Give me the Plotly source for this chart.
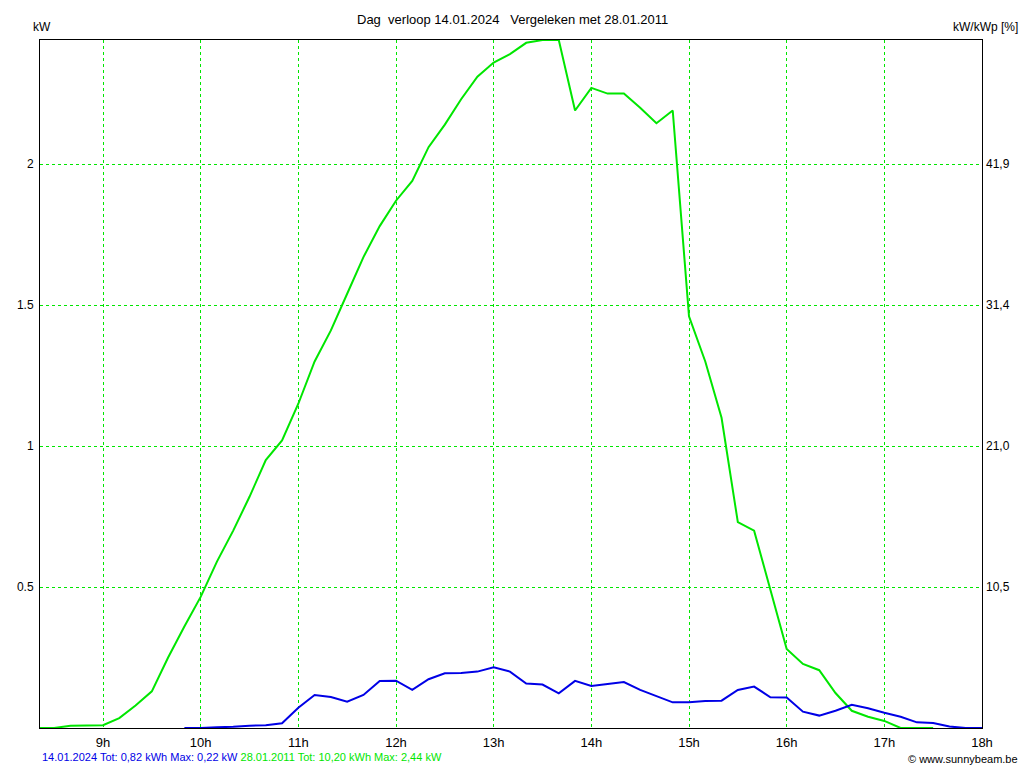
import plotly.graph_objects as go

# ---- data (10-minute samples) ----
green_times = ["08:20", "08:30", "08:40", "08:50", "09:00", "09:10", "09:20", "09:30", "09:40", "09:50",
               "10:00", "10:10", "10:20", "10:30", "10:40", "10:50", "11:00", "11:10", "11:20", "11:30",
               "11:40", "11:50", "12:00", "12:10", "12:20", "12:30", "12:40", "12:50", "13:00", "13:10",
               "13:20", "13:30", "13:40", "13:50", "14:00", "14:10", "14:20", "14:30", "14:40", "14:50",
               "15:00", "15:10", "15:20", "15:30", "15:40", "15:50", "16:00", "16:10", "16:20", "16:30",
               "16:40", "16:50", "17:00", "17:10", "17:20", "17:30"]
green_kw = [0.0, 0.0, 0.008, 0.008, 0.01, 0.035, 0.08, 0.13, 0.25, 0.36,
            0.465, 0.59, 0.70, 0.82, 0.95, 1.02, 1.15, 1.30, 1.41, 1.54,
            1.67, 1.78, 1.87, 1.94, 2.06, 2.14, 2.23, 2.31, 2.36, 2.39,
            2.43, 2.44, 2.44, 2.19, 2.27, 2.25, 2.25, 2.20, 2.145, 2.19,
            1.46, 1.30, 1.10, 0.73, 0.70, 0.49, 0.28, 0.227, 0.205, 0.124,
            0.061, 0.04, 0.025, 0.0, 0.0, 0.0]

blue_times = ["09:50", "10:00", "10:10", "10:20", "10:30", "10:40", "10:50", "11:00", "11:10", "11:20",
              "11:30", "11:40", "11:50", "12:00", "12:10", "12:20", "12:30", "12:40", "12:50", "13:00",
              "13:10", "13:20", "13:30", "13:40", "13:50", "14:00", "14:10", "14:20", "14:30", "14:40",
              "14:50", "15:00", "15:10", "15:20", "15:30", "15:40", "15:50", "16:00", "16:10", "16:20",
              "16:30", "16:40", "16:50", "17:00", "17:10", "17:20", "17:30", "17:40", "17:50", "18:00"]
blue_kw = [0.0, 0.0, 0.003, 0.004, 0.008, 0.01, 0.017, 0.072, 0.117, 0.11,
           0.093, 0.117, 0.167, 0.168, 0.135, 0.173, 0.194, 0.195, 0.20, 0.215,
           0.20, 0.158, 0.154, 0.123, 0.167, 0.149, 0.156, 0.163, 0.135, 0.113,
           0.091, 0.091, 0.096, 0.097, 0.135, 0.147, 0.109, 0.108, 0.058, 0.044,
           0.061, 0.082, 0.07, 0.054, 0.04, 0.02, 0.018, 0.005, 0.0, 0.0]

x_tick_hours = [9, 10, 11, 12, 13, 14, 15, 16, 17, 18]
x_tick_labels = ["9h", "10h", "11h", "12h", "13h", "14h", "15h", "16h", "17h", "18h"]
y_ticks = [0.5, 1.0, 1.5, 2.0]
y_tick_labels = ["0.5", "1", "1.5", "2"]
y2_tick_labels = ["10,5", "21,0", "31,4", "41,9"]

title_text = "Dag  verloop 14.01.2024   Vergeleken met 28.01.2011"
blue_legend = "14.01.2024 Tot: 0,82 kWh Max: 0,22 kW"
green_legend = "28.01.2011 Tot: 10,20 kWh Max: 2,44 kW"

GREEN = "#00e600"
BLUE = "#0000e6"
GRID = "#00e600"
FONT = "Liberation Sans, Arial, sans-serif"

W, H = 1024, 768
pl, pr, pt, pb = 40, 42, 40, 40
pw, ph = W - pl - pr, H - pt - pb


def to_hours(t):
    h, m = t.split(":")
    return int(h) + int(m) / 60.0


def px_x(px):
    return (px - pl) / pw


def px_y(py):
    return (H - pb - py) / ph


gx = [to_hours(t) for t in green_times]
bx = [to_hours(t) for t in blue_times]

fig = go.Figure()
fig.add_trace(go.Scatter(x=gx, y=green_kw, mode="lines",
                         line=dict(color=GREEN, width=2), hoverinfo="skip"))
fig.add_trace(go.Scatter(x=bx, y=blue_kw, mode="lines",
                         line=dict(color=BLUE, width=2), hoverinfo="skip"))
# invisible trace for the right axis
fig.add_trace(go.Scatter(x=[gx[0]], y=[0], yaxis="y2", mode="markers",
                         marker=dict(opacity=0), hoverinfo="skip"))

fig.update_layout(
    width=W, height=H,
    margin=dict(l=pl, r=pr, t=pt, b=pb, autoexpand=False),
    paper_bgcolor="white", plot_bgcolor="white",
    showlegend=False,
    font=dict(family=FONT, size=12, color="black"),
    xaxis=dict(range=[8.355, 18], tickvals=x_tick_hours, ticktext=x_tick_labels,
               showgrid=True, gridcolor=GRID, griddash="3px,3px", gridwidth=1,
               showline=True, linecolor="black", linewidth=1, mirror=True,
               zeroline=False, ticks="", tickfont=dict(size=13), ticklabelstandoff=2),
    yaxis=dict(range=[0, 2.44], tickvals=y_ticks, ticktext=y_tick_labels,
               showgrid=True, gridcolor=GRID, griddash="3px,3px", gridwidth=1,
               showline=True, linecolor="black", linewidth=1, mirror=True,
               zeroline=False, ticks="", tickfont=dict(size=12), ticklabelstandoff=3),
    yaxis2=dict(range=[0, 2.44], tickvals=y_ticks, ticktext=y2_tick_labels,
                overlaying="y", side="right", showgrid=False, zeroline=False,
                showline=False, ticks="", tickfont=dict(size=12), ticklabelstandoff=3),
    annotations=[
        dict(text=title_text, x=px_x(512), y=px_y(20), font=dict(size=13)),
        dict(text="kW", x=px_x(31), y=px_y(27), xanchor="left"),
        dict(text="kW/kWp [%]", x=px_x(1020), y=px_y(27), xanchor="right"),
        dict(text=f'<span style="color:{BLUE}">{blue_legend}</span> '
                  f'<span style="color:{GREEN}">{green_legend}</span>',
             x=px_x(40), y=px_y(757), xanchor="left", font=dict(size=11)),
        dict(text="© www.sunnybeam.be", x=px_x(1020), y=px_y(759), xanchor="right",
             font=dict(size=11)),
    ],
)
for a in fig.layout.annotations:
    a.update(xref="paper", yref="paper", yanchor="middle", showarrow=False)

fig.write_html(
    "out.html",
    config={"displayModeBar": False},
    post_script="document.body.style.margin='0';document.body.style.padding='0';"
                "document.body.style.overflow='hidden';",
)
